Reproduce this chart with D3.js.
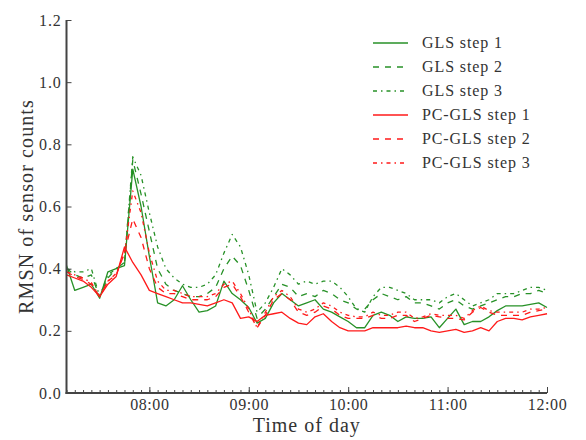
<!DOCTYPE html>
<html>
<head>
<meta charset="utf-8">
<script src="https://cdn.jsdelivr.net/npm/d3@7"></script>
<style>
  html, body { margin: 0; padding: 0; background: #fff; }
  svg { display: block; }
  text { font-family: "Liberation Serif", "DejaVu Serif", serif; fill: #333; }
</style>
</head>
<body>
<svg id="chart" width="586" height="440"></svg>
<script>
// Sample times: every 5 minutes from 07:10 to 12:00
const startTime = "07:10";
const endTime = "12:00";
const stepMinutes = 5;

const seriesNames = ["GLS step 1", "GLS step 2", "GLS step 3",
                     "PC-GLS step 1", "PC-GLS step 2", "PC-GLS step 3"];

const glsStep1 = [0.41,0.33,0.34,0.35,0.305,0.39,0.40,0.41,0.72,0.60,
  0.44,0.29,0.28,0.30,0.345,0.30,0.26,0.265,0.28,0.36,
  0.32,0.30,0.275,0.225,0.24,0.29,0.32,0.30,0.28,0.29,
  0.30,0.27,0.26,0.245,0.23,0.21,0.21,0.25,0.26,0.25,
  0.23,0.245,0.24,0.24,0.245,0.21,0.24,0.27,0.22,0.23,
  0.23,0.245,0.265,0.28,0.28,0.28,0.285,0.29,0.275];

const glsStep2 = [0.40,0.38,0.37,0.38,0.31,0.37,0.40,0.42,0.75,0.64,
  0.52,0.40,0.35,0.33,0.32,0.31,0.31,0.32,0.34,0.40,
  0.44,0.41,0.33,0.24,0.27,0.31,0.35,0.34,0.31,0.32,
  0.31,0.33,0.32,0.30,0.29,0.27,0.27,0.30,0.32,0.31,
  0.30,0.31,0.29,0.29,0.28,0.27,0.29,0.30,0.28,0.27,
  0.28,0.29,0.30,0.31,0.31,0.32,0.32,0.33,0.32];

const glsStep3 = [0.40,0.39,0.39,0.40,0.31,0.38,0.40,0.42,0.76,0.70,
  0.58,0.47,0.40,0.37,0.35,0.34,0.34,0.35,0.38,0.45,
  0.51,0.47,0.38,0.26,0.29,0.34,0.40,0.38,0.35,0.36,
  0.35,0.36,0.36,0.34,0.31,0.27,0.26,0.31,0.34,0.34,
  0.33,0.32,0.30,0.30,0.30,0.29,0.31,0.32,0.30,0.28,
  0.29,0.30,0.32,0.32,0.32,0.33,0.34,0.34,0.33];

const pcStep1 = [0.38,0.37,0.36,0.34,0.31,0.35,0.375,0.47,0.42,0.38,
  0.33,0.32,0.31,0.30,0.29,0.29,0.285,0.28,0.29,0.30,
  0.29,0.24,0.245,0.23,0.25,0.255,0.26,0.24,0.225,0.22,
  0.245,0.255,0.23,0.21,0.20,0.20,0.20,0.21,0.21,0.21,
  0.21,0.215,0.21,0.21,0.20,0.195,0.20,0.205,0.195,0.20,
  0.21,0.20,0.23,0.24,0.24,0.235,0.245,0.25,0.255];

const pcStep2 = [0.39,0.375,0.365,0.35,0.31,0.36,0.38,0.45,0.56,0.50,
  0.40,0.34,0.32,0.32,0.31,0.30,0.30,0.30,0.31,0.34,
  0.35,0.31,0.26,0.21,0.25,0.30,0.32,0.30,0.26,0.25,
  0.26,0.28,0.27,0.25,0.24,0.24,0.24,0.25,0.24,0.24,
  0.25,0.25,0.23,0.24,0.25,0.245,0.24,0.24,0.235,0.26,
  0.275,0.26,0.25,0.25,0.25,0.25,0.26,0.265,0.27];

const pcStep3 = [0.39,0.38,0.37,0.355,0.31,0.36,0.385,0.45,0.65,0.58,
  0.45,0.36,0.33,0.33,0.32,0.31,0.31,0.31,0.32,0.35,
  0.36,0.32,0.27,0.21,0.26,0.31,0.33,0.31,0.27,0.26,
  0.27,0.29,0.28,0.26,0.25,0.245,0.245,0.26,0.25,0.25,
  0.26,0.26,0.24,0.245,0.255,0.25,0.25,0.25,0.24,0.265,
  0.28,0.265,0.26,0.26,0.26,0.26,0.27,0.27,0.275];

const yTicks = [0.0, 0.2, 0.4, 0.6, 0.8, 1.0, 1.2];
const xTickLabels = ["08:00", "09:00", "10:00", "11:00", "12:00"];

const allSeries = [glsStep1, glsStep2, glsStep3, pcStep1, pcStep2, pcStep3];

// Line styles per series
const green = "#279127", red = "#ff1a1a";
const styles = [
  {color: green, dash: null},
  {color: green, dash: "6,6"},
  {color: green, dash: "4,4,1.5,4"},
  {color: red, dash: null},
  {color: red, dash: "6,6"},
  {color: red, dash: "4,4,1.5,4"}
];

const parseHM = d3.timeParse("%H:%M");
const t0 = parseHM(startTime), t1 = parseHM(endTime);
const times = d3.range(glsStep1.length).map(i => d3.timeMinute.offset(t0, i * stepMinutes));

const margin = {left: 66.5, right: 39, top: 20, bottom: 47};
const W = 586, H = 440;
const svg = d3.select("#chart");

const x = d3.scaleTime().domain([t0, t1]).range([margin.left, W - margin.right]);
const y = d3.scaleLinear().domain([0, 1.2]).range([H - margin.bottom, margin.top]);

// Series lines
const line = d3.line().x((d, i) => x(times[i])).y(d => y(d));
const plot = svg.append("g");
allSeries.forEach((s, k) => {
  plot.append("path")
    .datum(s)
    .attr("fill", "none")
    .attr("stroke", styles[k].color)
    .attr("stroke-width", 1.3)
    .attr("stroke-dasharray", styles[k].dash)
    .attr("stroke-linejoin", "round")
    .attr("d", line);
});

// Bottom axis: minor ticks every 5 minutes, hourly labels
const majorTimes = xTickLabels.map(parseHM);
const xMinor = d3.axisBottom(x).tickValues(times).tickSize(-3).tickFormat("");
const gxMinor = svg.append("g").attr("transform", `translate(0,${y(0)})`).call(xMinor);
gxMinor.select(".domain").remove();
gxMinor.selectAll("line").attr("stroke", "#444");

const xAxis = d3.axisBottom(x).tickValues(majorTimes).tickSize(-6).tickPadding(6)
  .tickFormat(d3.timeFormat("%H:%M"));
const gx = svg.append("g").attr("transform", `translate(0,${y(0)})`).call(xAxis);
gx.select(".domain").remove();
gx.selectAll("line").attr("stroke", "#444");
gx.selectAll("text").attr("font-size", 16).attr("letter-spacing", 0.6)
  .style("font-family", "Liberation Serif, serif").attr("fill", "#333");

const yAxis = d3.axisLeft(y).tickValues(yTicks).tickSize(-5).tickPadding(5)
  .tickFormat(d3.format(".1f"));
const gy = svg.append("g").attr("transform", `translate(${margin.left},0)`).call(yAxis);
gy.select(".domain").remove();
gy.selectAll("line").attr("stroke", "#444");
gy.selectAll("text").attr("font-size", 16).attr("letter-spacing", 0.8)
  .style("font-family", "Liberation Serif, serif").attr("fill", "#333");

// Spines (left and bottom only)
svg.append("line")
  .attr("x1", margin.left).attr("x2", margin.left)
  .attr("y1", y(1.2)).attr("y2", y(0) + 1)
  .attr("stroke", "#444").attr("stroke-width", 2);
svg.append("line")
  .attr("x1", margin.left - 1).attr("x2", W - margin.right)
  .attr("y1", y(0)).attr("y2", y(0))
  .attr("stroke", "#444").attr("stroke-width", 2);

// Axis titles
svg.append("text")
  .attr("x", (margin.left + W - margin.right) / 2)
  .attr("y", 432)
  .attr("text-anchor", "middle")
  .attr("font-size", 20)
  .attr("letter-spacing", 1)
  .text("Time of day");
svg.append("text")
  .attr("transform", `translate(33,${(y(0) + y(1.2)) / 2}) rotate(-90)`)
  .attr("text-anchor", "middle")
  .attr("font-size", 20)
  .attr("letter-spacing", 1.1)
  .text("RMSN of sensor counts");

// Legend
const legend = svg.append("g");
seriesNames.forEach((name, k) => {
  const ly = 43 + k * 24;
  legend.append("line")
    .attr("x1", 373).attr("x2", 408)
    .attr("y1", ly).attr("y2", ly)
    .attr("stroke", styles[k].color)
    .attr("stroke-width", 1.3)
    .attr("stroke-dasharray", styles[k].dash);
  legend.append("text")
    .attr("x", 422).attr("y", ly + 5)
    .attr("font-size", 16)
    .attr("letter-spacing", 0.9)
    .text(name);
});
</script>
</body>
</html>
